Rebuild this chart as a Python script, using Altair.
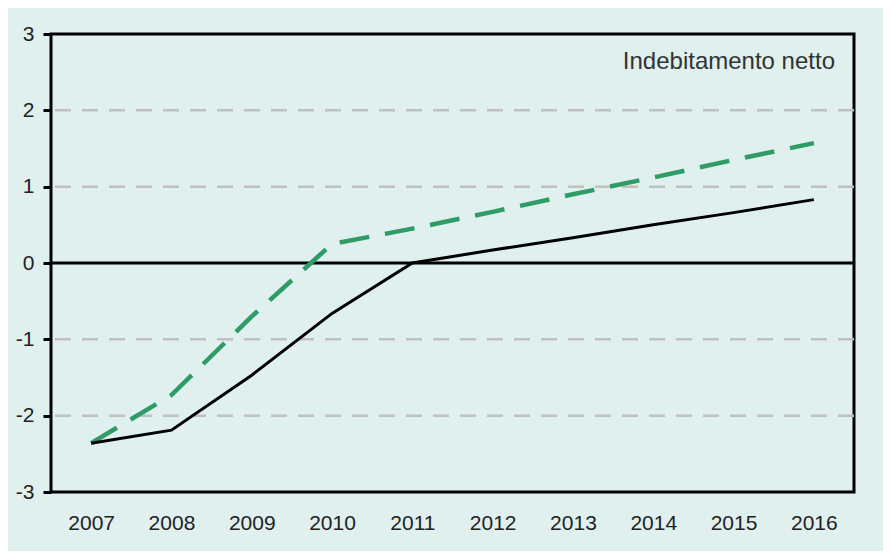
import altair as alt
import pandas as pd

years = ["2007", "2008", "2009", "2010", "2011", "2012", "2013", "2014", "2015", "2016"]
serie_nera = [-2.36, -2.19, -1.47, -0.66, 0.0, 0.17, 0.33, 0.50, 0.66, 0.83]
serie_verde = [-2.36, -1.73, -0.70, 0.25, 0.45, 0.67, 0.90, 1.12, 1.35, 1.57]
grid_values = [-2, -1, 1, 2]
y_ticks = [-3, -2, -1, 0, 1, 2, 3]
label_text = "Indebitamento netto"

BG = "#dff0ef"

df = pd.DataFrame({"anno": years * 2,
                   "valore": serie_nera + serie_verde,
                   "serie": ["nera"] * len(years) + ["verde"] * len(years)})
grid_df = pd.DataFrame({"v": grid_values})
zero_df = pd.DataFrame({"v": [0]})

x_enc = alt.X("anno:O", sort=years,
              scale=alt.Scale(type="point", padding=0.5),
              axis=alt.Axis(title=None, labelAngle=0, ticks=False, domain=False,
                            labelFont="Liberation Sans", labelFontSize=21,
                            labelColor="#222222", labelPadding=20))
y_scale = alt.Scale(domain=[-3, 3], nice=False, zero=False)

grid = alt.Chart(grid_df).mark_rule(color="#c0c0c0", strokeWidth=2.5,
                                    strokeDash=[16, 11]).encode(
    y=alt.Y("v:Q", scale=y_scale,
            axis=alt.Axis(title=None, values=y_ticks, grid=False, domain=False,
                          tickColor="black", tickSize=8, tickWidth=3,
                          labelExpr="toString(datum.value)",
                          labelFont="Liberation Sans", labelFontSize=21,
                          labelColor="#222222", labelPadding=9)))

zero = alt.Chart(zero_df).mark_rule(color="black", strokeWidth=3).encode(
    y=alt.Y("v:Q", scale=y_scale))

black = alt.Chart(df[df.serie == "nera"]).mark_line(
    color="black", strokeWidth=3).encode(
    x=x_enc, y=alt.Y("valore:Q", scale=y_scale))

green = alt.Chart(df[df.serie == "verde"]).mark_line(
    color="#2f9b66", strokeWidth=4.5, strokeDash=[30, 16]).encode(
    x=x_enc, y=alt.Y("valore:Q", scale=y_scale))

text = alt.Chart(pd.DataFrame({"t": [label_text]})).mark_text(
    align="right", baseline="middle", font="Liberation Sans", fontSize=24,
    color="#333333").encode(x=alt.value(784), y=alt.value(28), text="t:N")

chart = alt.layer(grid, zero, green, black, text).properties(
    width=803, height=458,
    background=BG,
    padding={"left": 43, "top": 26, "right": 29, "bottom": 59},
    autosize=alt.AutoSizeParams(type="none"),
).configure_view(
    stroke="black", strokeWidth=3, fill=BG
)

chart.save("out.html", embed_options={"renderer": "svg", "actions": False})
